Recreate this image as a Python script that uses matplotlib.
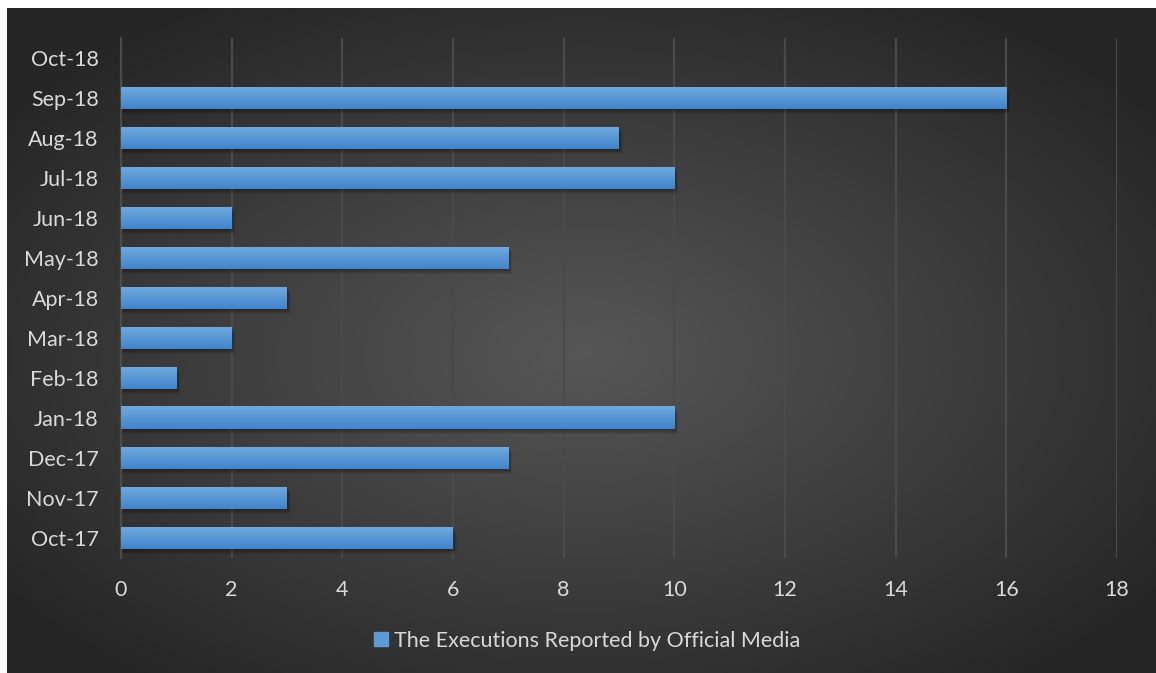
import matplotlib.pyplot as plt
import numpy as np
from matplotlib.patches import Rectangle
from matplotlib.lines import Line2D

months = ["Oct-17", "Nov-17", "Dec-17", "Jan-18", "Feb-18", "Mar-18", "Apr-18",
          "May-18", "Jun-18", "Jul-18", "Aug-18", "Sep-18", "Oct-18"]
executions = [6, 3, 7, 10, 1, 2, 3, 7, 2, 10, 9, 16, 0]
x_ticks = [0, 2, 4, 6, 8, 10, 12, 14, 16, 18]
series_name = "The Executions Reported by Official Media"

plt.rcParams["font.family"] = ["Lato", "DejaVu Sans"]
TEXT = "#d9d9d9"
GRID = "#4a4a4a"

fig = plt.figure(figsize=(11.56, 6.73), dpi=100)
fig.patch.set_facecolor("white")

# dark radial gradient background (chart area sits inside a thin white margin)
bg = fig.add_axes([7 / 1156, 0, 1 - 7 / 1156, 1 - 8 / 673])
yy, xx = np.mgrid[0:1:300j, 0:1:500j]
r = np.sqrt(((xx - 0.5) / 0.62) ** 2 + ((yy - 0.52) / 0.62) ** 2)
shade = np.clip(0.34 - 0.19 * r, 0.15, 0.34)
bg.imshow(np.dstack([shade] * 3), aspect="auto", extent=(0, 1, 0, 1), interpolation="bicubic")
bg.set_axis_off()

ax = fig.add_axes([121 / 1156, 1 - 558 / 673, 996 / 1156, 520 / 673])
ax.patch.set_alpha(0)
y = np.arange(len(months))
h = 0.55

grad = np.linspace(0, 1, 64).reshape(-1, 1)
top = np.array([0.44, 0.66, 0.87])
bot = np.array([0.25, 0.52, 0.80])
grad_rgb = bot + (top - bot) * grad
for yi, v in zip(y, executions):
    if v <= 0:
        continue
    # soft drop shadow built from a few faint layers
    for k in range(5):
        off = 0.03 + 0.025 * k
        ax.add_patch(Rectangle((0, yi - h / 2 - off), v + 0.02 + 0.012 * k, h, color="black",
                               alpha=0.07, lw=0, zorder=2))
    ax.imshow(grad_rgb[:, None, :].repeat(2, axis=1), extent=(0, v, yi - h / 2, yi + h / 2),
              aspect="auto", origin="lower", zorder=3)

ax.set_xlim(0, 18)
ax.set_ylim(-0.5, len(months) - 0.5)
ax.set_xticks(x_ticks)
ax.set_yticks(y)
ax.set_yticklabels(months)
ax.grid(axis="x", color=GRID, lw=1.6, zorder=1)
ax.set_axisbelow(True)
for s in ["top", "right", "bottom"]:
    ax.spines[s].set_visible(False)
ax.spines["left"].set_color(GRID)
ax.spines["left"].set_linewidth(1.6)
ax.tick_params(length=0, colors=TEXT, labelsize=15.5)
ax.tick_params(axis="y", pad=16)
ax.tick_params(axis="x", pad=16)

handle = Line2D([], [], marker="s", ls="none", markersize=10.5, markerfacecolor="#5b9bd5",
                markeredgecolor="#5b9bd5")
fig.legend([handle], [series_name], loc="center", bbox_to_anchor=(586 / 1156, 1 - 641 / 673),
           frameon=False, fontsize=15.5, labelcolor=TEXT, handletextpad=0.15, handlelength=0.9)

fig.savefig("out.png", dpi=100, facecolor=fig.get_facecolor())
